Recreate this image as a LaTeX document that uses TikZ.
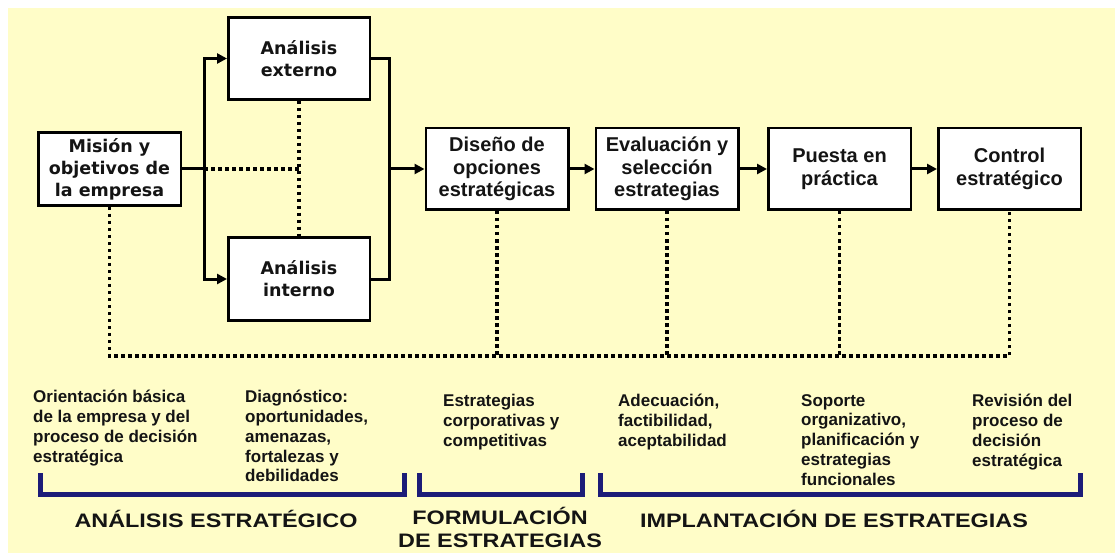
\documentclass[tikz,border=0pt]{standalone}
\usepackage{fontspec}
\setmainfont{Liberation Sans}
\newfontfamily\djv{DejaVu Sans}
\newfontfamily\wide[FakeStretch=1.2]{Liberation Sans}
\usetikzlibrary{arrows.meta}
\definecolor{bg}{RGB}{255,253,200}
\definecolor{navy}{RGB}{28,28,120}
\definecolor{ink}{RGB}{20,20,20}
\begin{document}
\begin{tikzpicture}[x=1pt,y=-1pt,
  boxL/.style={draw=black, line width=2.5pt, fill=white, inner sep=0pt, align=center,
    font=\djv\bfseries\fontsize{17.5}{22}\selectfont, text=ink},
  boxR/.style={draw=black, line width=2.5pt, fill=white, inner sep=0pt, align=center,
    minimum width=142.5pt, minimum height=81.5pt,
    font=\bfseries\fontsize{20}{22.5}\selectfont, text=ink},
  link/.style={line width=3pt},
  flow/.style={line width=3pt, -{Triangle[length=10pt,width=10pt]}},
  dots/.style={line width=3.5pt, dash pattern=on 3.5pt off 3.5pt},
  brk/.style={draw=navy, line width=5pt},
  note/.style={anchor=north west, yshift=16pt, align=left, inner sep=0pt,
    execute at begin node={\rule{0pt}{16pt}},
    font=\bfseries\fontsize{17}{19.8}\selectfont, text=ink},
  phase/.style={anchor=north, yshift=20pt, align=center, inner sep=0pt,
    execute at begin node={\rule{0pt}{20pt}},
    font=\wide\bfseries\fontsize{19.5}{23}\selectfont, text=ink}
]
\useasboundingbox (0,0) rectangle (1115,553);
\fill[bg] (8,8) rectangle (1115,553);

% boxes
\node[boxL, minimum width=142.5pt, minimum height=73pt] (mision) at (109.5,169) {Misión y\\objetivos de\\la empresa};
\node[boxL, minimum width=141.5pt, minimum height=82pt] (ext) at (299,58.5) {Análisis\\externo};
\node[boxL, minimum width=141.5pt, minimum height=83pt] (int) at (299,279) {Análisis\\interno};
\node[boxR] (dis) at (497,169) {Diseño de\\opciones\\estratégicas};
\node[boxR] (eva) at (667,169) {Evaluación y\\selección\\estrategias};
\node[boxR] (pue) at (839.5,169) {Puesta en\\práctica};
\node[boxR] (con) at (1009.5,169) {Control\\estratégico};

% junctions
\coordinate (jl) at (204,169);
\coordinate (jr) at (389,169);
\coordinate (bl) at (109.5,356);
\coordinate (br) at (1009.5,356);

% dotted relations
\draw[dots] (jl) -- (ext.south |- jl);
\draw[dots] (ext.south) -- (int.north);
\draw[dots] (mision.south) -- (bl) -- (br) -- (con.south);
\draw[dots] (dis.south) -- (dis.south |- bl);
\draw[dots] (eva.south) -- (eva.south |- bl);
\draw[dots] (pue.south) -- (pue.south |- bl);

% solid flow
\draw[link] (mision.east) -- (jl);
\draw[flow] (jl) |- (ext.west);
\draw[flow] (jl) |- (int.west);
\draw[link] (ext.east) -| (jr);
\draw[link] (int.east) -| (jr);
\draw[flow] (jr) -- (dis.west);
\draw[flow] (dis.east) -- (eva.west);
\draw[flow] (eva.east) -- (pue.west);
\draw[flow] (pue.east) -- (con.west);

% notes (positions are first-line baselines)
\node[note] (n1) at (33,406) {Orientación básica\\de la empresa y del\\proceso de decisión\\estratégica};
\node[note] (n2) at (245,406) {Diagnóstico:\\oportunidades,\\amenazas,\\fortalezas y\\debilidades};
\node[note] (n3) at (443,410) {Estrategias\\corporativas y\\competitivas};
\node[note] (n4) at (618,410) {Adecuación,\\factibilidad,\\aceptabilidad};
\node[note] (n5) at (801,410) {Soporte\\organizativo,\\planificación y\\estrategias\\funcionales};
\node[note] (n6) at (972,410) {Revisión del\\proceso de\\decisión\\estratégica};

% brackets
\draw[brk] (40.5,473) -- (40.5,494.5) -- (404.5,494.5) -- (404.5,473);
\draw[brk] (419.5,473) -- (419.5,494.5) -- (582.5,494.5) -- (582.5,473);
\draw[brk] (600.5,473) -- (600.5,494.5) -- (1080,494.5) -- (1080,473);

% phases (positions are first-line baselines)
\node[phase] (p1) at (216,527) {ANÁLISIS ESTRATÉGICO};
\node[phase] (p2) at (500,527) {FORMULACIÓN\\DE ESTRATEGIAS};
\node[phase] (p3) at (834,527) {IMPLANTACIÓN DE ESTRATEGIAS};
\end{tikzpicture}
\end{document}
